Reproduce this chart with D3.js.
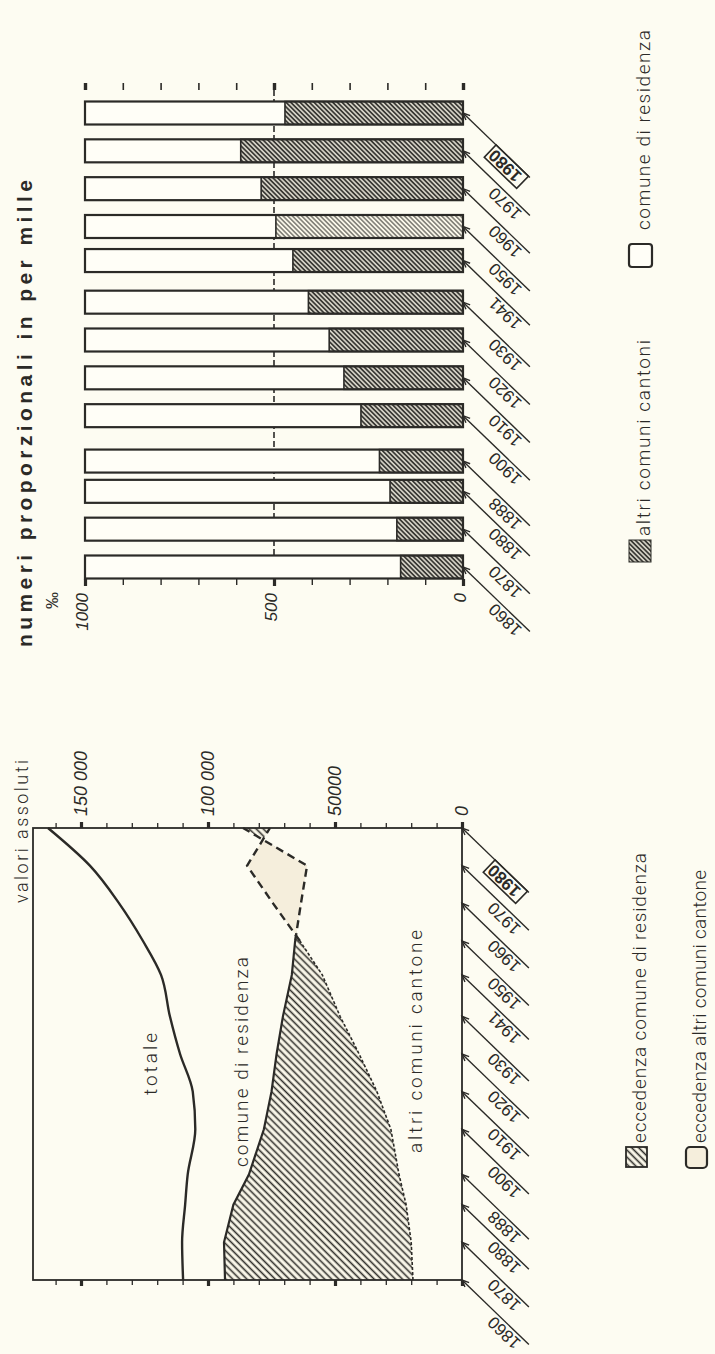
<!DOCTYPE html>
<html>
<head>
<meta charset="utf-8">
<script src="https://cdnjs.cloudflare.com/ajax/libs/d3/7.8.5/d3.min.js"></script>
<style>
  body { margin: 0; background: #fdfcf2; }
  svg { display: block; }
</style>
</head>
<body>
<div id="chart"></div>
<script>
// page size (the chart is printed turned a quarter to the left)
var W = 715, H = 1354;
var ink = "#2b2a27";

// census years
var years = [1860, 1870, 1880, 1888, 1900, 1910, 1920, 1930, 1941, 1950, 1960, 1970, 1980];
// absolute values
var totale = [109800, 110200, 109000, 108000, 105000, 106000, 111000, 115000, 118500, 125600, 135000, 146500, 163000];
var comune = [93300, 93700, 90000, 83900, 78000, 75000, 73000, 70500, 67000, 65700, 63400, 61000, 86200];
var altri = [19300, 20000, 22000, 24800, 28000, 33500, 40500, 48000, 55000, 63800, 74400, 84600, 75600];
// per mille, share of "altri comuni cantoni"
var altriMille = [165, 175, 193, 221, 270, 315, 354, 409, 450, 495, 534, 588, 471];

// tick values and labels
var absMajor = [0, 50000, 100000, 150000];
var absLabels = ["0", "50000", "100 000", "150 000"];
var milleMajor = [0, 500, 1000];
var milleLabels = ["0", "500", "1000"];

var svg = d3.select("#chart").append("svg")
  .attr("width", W)
  .attr("height", H);

svg.append("rect").attr("width", W).attr("height", H).attr("fill", "#fdfcf2");

var defs = svg.append("defs");

// hatch patterns
function hatch(id, size, width, color) {
  var p = defs.append("pattern")
    .attr("id", id)
    .attr("patternUnits", "userSpaceOnUse")
    .attr("width", size)
    .attr("height", size)
    .attr("patternTransform", "rotate(45)");
  p.append("rect").attr("width", size).attr("height", size).attr("fill", "#fbf8ea");
  p.append("line")
    .attr("x1", size / 2).attr("y1", 0)
    .attr("x2", size / 2).attr("y2", size)
    .attr("stroke", color)
    .attr("stroke-width", width);
}
hatch("barHatch", 3.3, 2.0, "#3a3935");
hatch("barHatchLight", 3.3, 1.0, "#3a3935");
hatch("areaHatch", 5, 1.6, "#2f2e2a");

// everything is drawn in the upright frame and then turned
var g = svg.append("g")
  .attr("transform", "translate(0," + H + ") rotate(-90)");

var lightFont = "Roboto, 'Liberation Sans', sans-serif";
var numFont = "'Liberation Sans', Arial, sans-serif";

// ---------- year labels with arrows ----------
function yearLabels(parent, x, v0) {
  var lab = parent.append("g").selectAll("g")
    .data(years)
    .enter()
    .append("g")
    .attr("transform", function(d) { return "translate(" + x(d) + "," + v0 + ") rotate(-46)"; });

  lab.append("line")
    .attr("x1", 0).attr("y1", 0)
    .attr("x2", -93).attr("y2", 0)
    .attr("stroke", ink)
    .attr("stroke-width", 1.4);

  lab.append("path")
    .attr("d", "M-7,-3L0,0L-7,3")
    .attr("fill", "none")
    .attr("stroke", ink)
    .attr("stroke-width", 1.4);

  lab.append("text")
    .attr("x", -48)
    .attr("y", -3)
    .attr("text-anchor", "end")
    .style("font-family", numFont)
    .style("font-size", "17px")
    .style("font-weight", function(d) { return d === 1980 ? "bold" : "normal"; })
    .attr("fill", ink)
    .text(function(d) { return d; });

  lab.filter(function(d) { return d === 1980; })
    .append("rect")
    .attr("x", -91).attr("y", -17)
    .attr("width", 45).attr("height", 17)
    .attr("fill", "none")
    .attr("stroke", ink)
    .attr("stroke-width", 1.6);
}

// ---------- left panel: valori assoluti ----------
var xL = d3.scaleLinear().domain([1860, 1980]).range([74, 526]);
var yL = d3.scaleLinear().domain([0, 150000]).range([462, 81]);

var rows = years.map(function(y, i) {
  return { year: y, totale: totale[i], comune: comune[i], altri: altri[i] };
});

var underComune = d3.area()
  .x(function(d) { return xL(d.year); })
  .y0(yL(0))
  .y1(function(d) { return yL(d.comune); });
var underAltri = d3.area()
  .x(function(d) { return xL(d.year); })
  .y0(yL(0))
  .y1(function(d) { return yL(d.altri); });
var band = d3.area()
  .x(function(d) { return xL(d.year); })
  .y0(function(d) { return yL(d.altri); })
  .y1(function(d) { return yL(d.comune); });

defs.append("clipPath").attr("id", "clipComune").append("path").attr("d", underComune(rows));
defs.append("clipPath").attr("id", "clipAltri").append("path").attr("d", underAltri(rows));

// eccedenza comune di residenza
g.append("path")
  .attr("d", band(rows))
  .attr("fill", "url(#areaHatch)")
  .attr("clip-path", "url(#clipComune)");
// eccedenza altri comuni cantone
g.append("path")
  .attr("d", band(rows))
  .attr("fill", "#f5eedc")
  .attr("clip-path", "url(#clipAltri)");

var lineTot = d3.line()
  .x(function(d) { return xL(d.year); })
  .y(function(d) { return yL(d.totale); })
  .curve(d3.curveMonotoneX);
var lineCom = d3.line()
  .x(function(d) { return xL(d.year); })
  .y(function(d) { return yL(d.comune); });
var lineAlt = d3.line()
  .x(function(d) { return xL(d.year); })
  .y(function(d) { return yL(d.altri); });

var early = rows.filter(function(d) { return d.year <= 1950; });
var late = rows.filter(function(d) { return d.year >= 1950; });

g.append("path").attr("d", lineTot(rows))
  .attr("fill", "none").attr("stroke", ink).attr("stroke-width", 2.4);
g.append("path").attr("d", lineCom(early))
  .attr("fill", "none").attr("stroke", ink).attr("stroke-width", 2.2);
g.append("path").attr("d", lineAlt(early))
  .attr("fill", "none").attr("stroke", ink).attr("stroke-width", 1.6)
  .attr("stroke-dasharray", "3,2");
g.append("path").attr("d", lineCom(late))
  .attr("fill", "none").attr("stroke", ink).attr("stroke-width", 2.4)
  .attr("stroke-dasharray", "8,5");
g.append("path").attr("d", lineAlt(late))
  .attr("fill", "none").attr("stroke", ink).attr("stroke-width", 2.4)
  .attr("stroke-dasharray", "8,5");

// frame
g.append("rect")
  .attr("x", xL(1860)).attr("y", 33)
  .attr("width", xL(1980) - xL(1860))
  .attr("height", yL(0) - 33)
  .attr("fill", "none")
  .attr("stroke", ink)
  .attr("stroke-width", 1.8);

var absMinor = d3.range(0, 170000, 10000);

function tickAxis(axis, pos, values, size, width, labels) {
  var a = g.append("g")
    .attr("transform", "translate(" + pos + ",0)")
    .call(axis(yL).tickValues(values).tickSize(size).tickPadding(6)
      .tickFormat(labels ? function(d) { return labels[absMajor.indexOf(d)]; } : ""));
  a.select(".domain").remove();
  a.selectAll("line").attr("stroke", ink).attr("stroke-width", width);
  a.selectAll("text")
    .style("font-family", numFont)
    .style("font-style", "italic")
    .style("font-size", "18px")
    .attr("fill", ink);
  return a;
}
tickAxis(d3.axisRight, xL(1980), absMinor, 5, 1.3, null);
tickAxis(d3.axisRight, xL(1980), absMajor, 6, 3.2, absLabels);
tickAxis(d3.axisLeft, xL(1860), absMinor, 5, 1.3, null);
tickAxis(d3.axisLeft, xL(1860), absMajor, 6, 3.2, null);

yearLabels(g, xL, yL(0));

// inner labels
function label(txt, u, v, len, size) {
  g.append("text")
    .attr("x", u).attr("y", v)
    .attr("textLength", len)
    .attr("lengthAdjust", "spacing")
    .style("font-family", lightFont)
    .style("font-weight", 300)
    .style("font-size", size + "px")
    .attr("fill", ink)
    .text(txt);
}
label("valori assoluti", 451, 28, 143, 18);
label("totale", 259, 157, 62, 19);
label("comune di residenza", 187, 248, 210, 19);
label("altri comuni cantone", 201, 422, 223, 19);

// legend, left panel
g.append("rect").attr("x", 187).attr("y", 626).attr("width", 20).attr("height", 21)
  .attr("fill", "url(#areaHatch)").attr("stroke", ink).attr("stroke-width", 1.8);
label("eccedenza comune di residenza", 211, 646, 290, 19);
g.append("rect").attr("x", 186).attr("y", 686).attr("width", 21).attr("height", 21)
  .attr("rx", 4)
  .attr("fill", "#f5eedc").attr("stroke", ink).attr("stroke-width", 2.2);
label("eccedenza altri comuni cantone", 211, 706, 273, 19);

// ---------- right panel: numeri proporzionali ----------
var xB = d3.scaleLinear().domain([1860, 1980]).range([787, 1241]);
var yB = d3.scaleLinear().domain([0, 1000]).range([463, 85]);
var barW = 23;

// 500 line behind the bars
g.append("line")
  .attr("x1", 772).attr("x2", 1266)
  .attr("y1", yB(500)).attr("y2", yB(500))
  .attr("stroke", ink)
  .attr("stroke-width", 1.6)
  .attr("stroke-dasharray", "6,3");

var bars = g.append("g").selectAll("g")
  .data(years)
  .enter()
  .append("g");

bars.append("rect")
  .attr("x", function(d) { return xB(d) - barW / 2; })
  .attr("y", yB(1000))
  .attr("width", barW)
  .attr("height", yB(0) - yB(1000))
  .attr("fill", "#fffef7");

bars.append("rect")
  .attr("x", function(d) { return xB(d) - barW / 2; })
  .attr("y", function(d, i) { return yB(altriMille[i]); })
  .attr("width", barW)
  .attr("height", function(d, i) { return yB(0) - yB(altriMille[i]); })
  .attr("fill", function(d) { return d === 1950 ? "url(#barHatchLight)" : "url(#barHatch)"; })
  .attr("stroke", ink)
  .attr("stroke-width", 1.6);

bars.append("rect")
  .attr("x", function(d) { return xB(d) - barW / 2; })
  .attr("y", yB(1000))
  .attr("width", barW)
  .attr("height", yB(0) - yB(1000))
  .attr("fill", "none")
  .attr("stroke", ink)
  .attr("stroke-width", 2.2);

var milleMinor = d3.range(0, 1001, 100);
function milleAxis(axis, pos, values, size, width) {
  var a = g.append("g")
    .attr("transform", "translate(" + pos + ",0)")
    .call(axis(yB).tickValues(values).tickSize(size).tickFormat(""));
  a.select(".domain").remove();
  a.selectAll("line").attr("stroke", ink).attr("stroke-width", width);
}
milleAxis(d3.axisLeft, 775, milleMinor, 6, 1.4);
milleAxis(d3.axisLeft, 775, milleMajor, 7, 3.2);
milleAxis(d3.axisRight, 1264, milleMinor, 7, 1.6);
milleAxis(d3.axisRight, 1264, milleMajor, 7, 3.4);

g.append("g").selectAll("text")
  .data(milleMajor)
  .enter()
  .append("text")
  .attr("x", 761)
  .attr("y", function(d) { return yB(d) - 3; })
  .attr("dy", "0.35em")
  .attr("text-anchor", "end")
  .style("font-family", numFont)
  .style("font-style", "italic")
  .style("font-size", "17px")
  .attr("fill", ink)
  .text(function(d, i) { return milleLabels[i]; });

g.append("text")
  .attr("x", 762).attr("y", 58)
  .attr("text-anchor", "end")
  .style("font-family", numFont)
  .style("font-size", "17px")
  .attr("fill", ink)
  .text("‰");

yearLabels(g, xB, yB(0));

g.append("text")
  .attr("x", 707).attr("y", 32)
  .attr("textLength", 467)
  .attr("lengthAdjust", "spacing")
  .style("font-family", numFont)
  .style("font-weight", "bold")
  .style("font-size", "21px")
  .attr("fill", ink)
  .text("numeri proporzionali in per mille");

// legend, right panel
g.append("rect").attr("x", 792).attr("y", 629).attr("width", 22).attr("height", 22)
  .attr("fill", "url(#barHatch)").attr("stroke", ink).attr("stroke-width", 1);
label("altri comuni cantoni", 818, 650, 196, 19);
g.append("rect").attr("x", 1087).attr("y", 629).attr("width", 23).attr("height", 23)
  .attr("rx", 3)
  .attr("fill", "#fffef7").attr("stroke", ink).attr("stroke-width", 2.2);
label("comune di residenza", 1124, 650, 200, 19);
</script>
</body>
</html>
